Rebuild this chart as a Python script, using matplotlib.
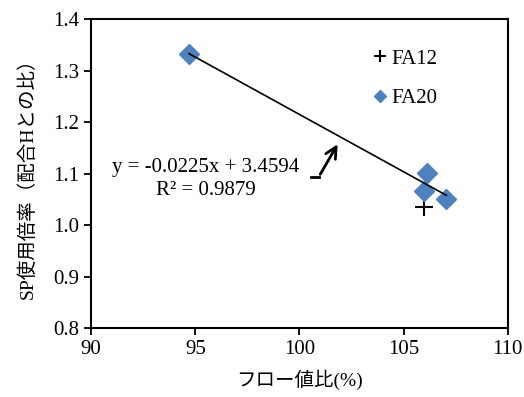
import matplotlib.pyplot as plt
import numpy as np

plt.rcParams['font.family'] = ['Liberation Serif', 'Noto Sans CJK JP']
plt.rcParams['font.size'] = 15

# data
fa12_x = [106.0]
fa12_y = [1.035]
fa20_x = [94.7, 106.1, 106.0, 107.05]
fa20_y = [1.333, 1.101, 1.067, 1.051]

x_ticks = [90, 95, 100, 105, 110]
y_ticks = [0.8, 0.9, 1.0, 1.1, 1.2, 1.3, 1.4]

fig = plt.figure(figsize=(5.24, 3.97), dpi=100)
ax = fig.add_axes([0.174, 0.174, 0.795, 0.777])

ax.plot(fa12_x, fa12_y, '+', color='black', markersize=13, markeredgewidth=1.5, label='FA12')
ax.plot(fa20_x, fa20_y, 'D', color='#4F81BD', markersize=10, label='FA20')

# linear trendline over FA20
coef = np.polyfit(fa20_x, fa20_y, 1)
xs = np.array([min(fa20_x), max(fa20_x)])
ax.plot(xs, np.polyval(coef, xs), color='black', linewidth=1.2)

ax.text(95.5, 1.113, 'y = -0.0225x + 3.4594', ha='center', va='center')
ax.text(95.5, 1.068, 'R² = 0.9879', ha='center', va='center')

# bent arrow pointing to the trendline
ax.plot([100.55, 100.95], [1.094, 1.094], color='black', linewidth=2)
ax.annotate('', xy=(101.9, 1.162), xytext=(100.93, 1.094),
            arrowprops=dict(arrowstyle='->', color='black', lw=2, mutation_scale=20))

ax.set_xlim(90, 110)
ax.set_ylim(0.8, 1.4)
ax.set_xticks(x_ticks)
ax.set_yticks(y_ticks)
ax.set_yticklabels([f'{v:.1f}' for v in y_ticks])
ax.tick_params(direction='out', length=5, width=1.3, labelsize=15)
for s in ax.spines.values():
    s.set_linewidth(1.5)

ax.set_xlabel('フロー値比(%)', fontsize=14, labelpad=8)
ax.set_ylabel('SP使用倍率（配合Hとの比）', fontsize=14, labelpad=12)

ax.legend(loc='upper left', bbox_to_anchor=(0.637, 0.965), frameon=False,
          handlelength=0.5, handletextpad=0.25, labelspacing=0.95, markerscale=0.65,
          fontsize=15)

fig.savefig('out.png', dpi=100)
